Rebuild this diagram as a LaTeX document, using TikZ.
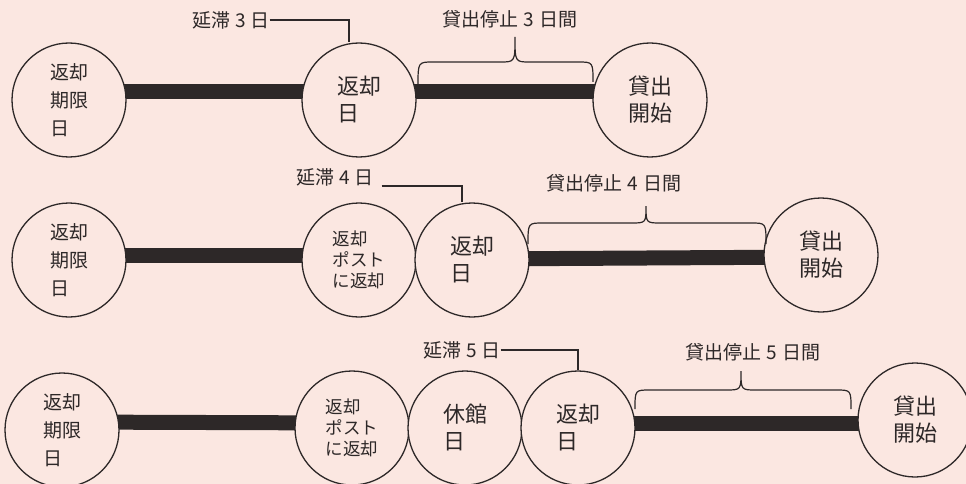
\documentclass[tikz,border=0pt]{standalone}
\usepackage{fontspec}
\setmainfont{Noto Sans CJK JP}
\usetikzlibrary{backgrounds}
\definecolor{bgpink}{RGB}{251,231,225}
\definecolor{ink}{RGB}{45,40,40}
\newcommand{\dsp}{\hspace{0.25em}}
\tikzset{
  circ/.style={circle, draw=ink, line width=1.3pt, fill=bgpink, minimum size=114pt, inner sep=0pt, align=left, text=ink},
  bigtxt/.style={font=\fontsize{22}{27}\selectfont},
  midtxt/.style={font=\fontsize{19}{28}\selectfont},
  smalltxt/.style={font=\fontsize{17.5}{21}\selectfont},
  lbl/.style={font=\fontsize{19}{22}\selectfont, text=ink, inner sep=0pt},
  bar/.style={draw=ink, line width=15pt},
  thin/.style={draw=ink, line width=1.2pt},
}
\begin{document}
\begin{tikzpicture}[x=1pt, y=-1pt]
\useasboundingbox (0,0) rectangle (966,484);
% row 1
\node[circ, midtxt] (A1) at (69,100) {返却\\期限\\日};
\node[circ, bigtxt] (B1) at (359,100) {返却\\日};
\node[circ, bigtxt] (C1) at (650,100) {貸出\\開始};
\node[lbl] (L1) at (231,20) {延滞{\dsp}3{\dsp}日};
\node[lbl] (S1) at (510,19) {貸出停止{\dsp}3{\dsp}日間};
\draw[thin] (L1.east) -| ([xshift=-10pt]B1.north);
\draw[thin] (418,86) .. controls (418,62) .. (433,62) -- (500,62) .. controls (515,62) .. (515,37) .. controls (515,62) .. (530,62) -- (578,62) .. controls (593,62) .. (593,82);
% row 2
\node[circ, midtxt] (A2) at (69,260) {返却\\期限\\日};
\node[circ, smalltxt] (B2) at (359,260) {返却\\ポスト\\に返却};
\node[circ, bigtxt] (C2) at (472,260) {返却\\日};
\node[circ, bigtxt] (D2) at (821,255) {貸出\\開始};
\node[lbl] (L2) at (335,177) {延滞{\dsp}4{\dsp}日};
\node[lbl] (S2) at (614,183) {貸出停止{\dsp}4{\dsp}日間};
\draw[thin] ([xshift=8pt,yshift=-9pt]L2.east) -| ([xshift=-10pt]C2.north);
\draw[thin] (528,244) .. controls (528,223) .. (543,223) -- (631,223) .. controls (646,223) .. (646,206) .. controls (646,223) .. (661,223) -- (751,223) .. controls (766,223) .. (766,244);
% row 3
\node[circ, midtxt] (A3) at (62,430) {返却\\期限\\日};
\node[circ, smalltxt] (B3) at (352,428) {返却\\ポスト\\に返却};
\node[circ, bigtxt] (C3) at (465,428) {休館\\日};
\node[circ, bigtxt] (D3) at (578,428) {返却\\日};
\node[circ, bigtxt] (E3) at (915,420) {貸出\\開始};
\node[lbl] (L3) at (462,350) {延滞{\dsp}5{\dsp}日};
\node[lbl] (S3) at (753,352) {貸出停止{\dsp}5{\dsp}日間};
\draw[thin] (L3.east) -| (D3.north);
\draw[thin] (635,409) .. controls (635,390) .. (650,390) -- (726,390) .. controls (741,390) .. (741,371) .. controls (741,390) .. (756,390) -- (836,390) .. controls (851,390) .. (851,409);
\begin{scope}[on background layer]
\fill[bgpink] (0,0) rectangle (966,484);
\draw[bar] ([yshift=8pt]A1.center) -- ([yshift=8pt]B1.center);
\draw[bar] ([yshift=8pt]B1.center) -- ([yshift=8pt]C1.center);
\draw[bar] ([yshift=5pt]A2.center) -- ([yshift=5pt]B2.center);
\draw[bar] ([yshift=1pt]C2.center) -- ([yshift=-2pt]D2.center);
\draw[bar] ([yshift=8pt]A3.center) -- ([yshift=5pt]B3.center);
\draw[bar] ([yshift=5pt]D3.center) -- ([yshift=-3pt]E3.center);
\end{scope}
\end{tikzpicture}
\end{document}
